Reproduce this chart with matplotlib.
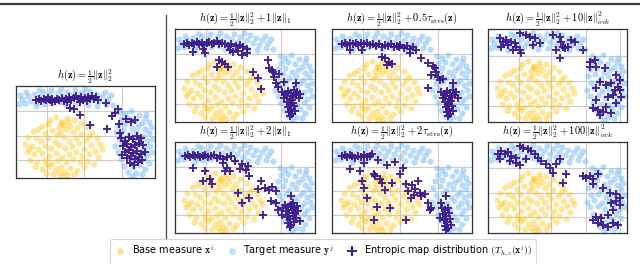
import matplotlib
matplotlib.use("Agg")
import matplotlib.pyplot as plt
from matplotlib.lines import Line2D
import numpy as np

plt.rcParams['mathtext.fontset'] = 'cm'
plt.rcParams['font.family'] = ['DejaVu Sans']

# ---------------- data (unitless coordinates) ----------------
base_pts = [
 (3.4,5.8),(4.0,6.1),(4.6,5.6),(5.1,6.0),(5.8,5.8),(6.5,5.5),
 (2.6,5.2),(3.2,5.4),(4.3,5.1),(4.7,5.3),(5.0,4.9),(5.4,5.2),(6.1,5.0),(7.1,5.1),
 (1.7,4.7),(2.2,4.9),(2.9,4.5),(3.6,4.8),(4.4,4.6),(5.7,4.6),(6.5,4.4),(7.6,4.5),(8.1,4.0),
 (1.2,4.1),(2.0,4.0),(2.5,3.7),(3.2,4.0),(3.9,3.6),(4.8,4.1),(5.3,3.7),(6.0,4.0),(7.0,3.8),(7.5,3.3),(8.4,3.4),
 (0.9,3.4),(1.6,3.2),(2.2,2.9),(2.9,3.2),(3.5,3.0),(4.3,3.3),(4.9,3.0),(5.6,3.2),(6.3,3.5),(6.8,2.9),(7.9,2.7),(8.6,2.9),
 (1.1,2.6),(1.8,2.4),(2.6,2.5),(3.3,2.2),(4.0,2.5),(4.6,2.1),(5.3,2.4),(6.0,2.6),(6.6,2.2),(7.3,2.4),(8.2,2.1),
 (1.4,1.8),(2.1,1.6),(2.9,1.8),(3.6,1.5),(4.2,1.8),(5.0,1.6),(5.7,1.9),(6.4,1.6),(7.1,1.7),(7.8,1.4),
 (1.9,1.1),(2.6,0.9),(3.3,1.2),(4.0,0.9),(4.5,1.1),(4.8,0.6),(5.4,1.0),(6.1,0.8),(6.8,1.1),
 (3.0,0.5),(3.7,0.4),(4.3,0.5),(5.1,0.3),(5.8,0.4),(4.6,0.2),
 (4.5,5.5),(5.2,5.6),(4.1,4.3),(3.0,1.4),(1.3,2.9),(7.3,4.2)]

target_pts = [
 (0.3,7.4),(0.6,7.9),(0.9,7.5),(1.2,8.2),(1.5,7.7),(1.8,8.4),(2.1,7.6),(2.4,8.1),(2.7,8.6),(3.0,7.8),
 (3.3,8.3),(3.5,8.8),(3.9,7.9),(4.2,8.5),(4.5,8.9),(4.7,8.1),(5.1,8.6),(5.3,7.8),(5.6,8.3),(5.9,8.8),
 (6.2,8.0),(6.5,8.5),(6.8,7.7),(7.1,8.2),(7.4,8.7),(7.7,7.9),(8.0,8.4),(8.3,7.7),(8.6,8.2),(8.9,8.6),
 (9.2,7.9),(9.5,8.3),(1.0,8.6),(2.0,7.2),(2.8,7.4),(3.6,7.5),(4.4,7.6),(6.0,7.4),(7.2,7.3),(8.1,7.2),
 (9.0,7.4),(9.7,7.3),(5.0,7.3),(6.9,8.9),(2.3,8.8),(0.4,8.3),
 (10.9,6.4),(11.5,6.7),(12.3,6.3),(12.9,6.0),(10.5,5.9),(11.2,6.0),(11.9,5.8),(12.6,5.5),(13.3,5.6),
 (10.2,5.3),(10.9,5.4),(11.6,5.0),(12.2,5.2),(12.9,4.9),(13.5,5.1),(10.0,4.6),(10.7,4.8),(11.3,4.4),
 (12.0,4.6),(12.7,4.2),(13.3,4.5),(10.3,3.9),(11.0,4.0),(11.8,3.7),(12.4,3.9),(13.1,3.7),(13.6,3.9),
 (9.9,3.2),(10.6,3.4),(11.4,3.1),(12.1,3.3),(12.8,3.0),(13.4,3.2),(10.2,2.6),(11.0,2.7),(11.7,2.4),
 (12.5,2.6),(13.1,2.3),(13.6,2.6),(10.5,1.9),(11.3,1.8),(12.1,1.7),(12.8,1.9),(13.3,1.5),(10.8,1.2),
 (11.7,1.1),(12.4,1.3),(12.9,0.9),(11.2,0.6),(12.0,0.5),(12.6,0.4),(11.6,0.2),(10.4,6.6),(13.0,6.4)]

map_l2 = [
 (2.0,7.8),(2.3,7.9),(2.5,7.7),(2.8,7.9),(3.0,7.8),(3.2,8.0),(3.4,7.8),(3.6,7.9),(3.9,7.7),(4.1,7.9),
 (4.3,7.8),(4.6,8.0),(4.8,7.7),(5.0,7.9),(5.3,8.1),(5.5,7.8),(5.8,8.0),(6.0,8.2),(6.2,7.9),(6.5,8.1),
 (6.7,7.8),(6.9,8.0),(7.2,8.1),(7.4,7.9),(7.6,8.2),(7.8,7.9),(8.0,8.1),(8.2,7.8),(5.1,7.6),(6.4,7.6),
 (3.6,7.6),(7.1,7.7),
 (5.4,7.0),(5.8,6.9),(6.4,6.3),(7.4,5.3),(9.0,7.5),(9.1,4.9),(9.9,6.5),(10.2,6.9),(9.6,6.2),(10.3,5.4),
 (11.0,5.9),(11.5,5.6),(11.9,5.8),(10.4,4.5),
 (10.5,4.0),(10.9,3.7),(11.3,4.1),(11.7,3.9),(12.1,4.2),(12.5,4.0),(10.7,3.2),(11.1,3.4),(11.5,3.1),
 (11.9,3.3),(12.3,3.5),(12.7,3.3),(10.9,2.6),(11.3,2.8),(11.7,2.5),(12.1,2.7),(12.5,2.4),(11.1,2.0),
 (11.5,2.2),(11.9,1.9),(12.3,2.1),(11.4,1.5),(11.8,1.3),(12.2,1.6),(12.6,1.8),(10.6,2.3),(12.9,2.6)]

map_l1_1 = [
 (0.9,7.8),(1.2,7.9),(1.4,7.7),(1.7,7.9),(1.9,7.8),(2.2,8.0),(2.4,7.8),(2.7,7.9),(2.9,7.7),(3.2,7.9),
 (3.4,8.0),(3.7,7.8),(3.9,7.9),(4.2,8.1),(4.4,7.8),(4.7,7.9),(5.0,7.8),(5.3,7.6),(5.6,7.8),(6.1,7.6),
 (6.5,7.7),(6.8,7.5),(7.1,7.3),
 (1.8,7.0),(3.0,6.9),(2.8,7.3),(5.5,7.2),(5.8,7.0),(6.3,7.1),(6.7,6.7),(7.1,6.9),(4.7,6.0),(4.4,6.2),
 (4.2,5.5),(5.3,5.5),(5.0,5.8),(7.7,5.0),(8.2,4.4),(8.5,3.3),(9.3,5.4),(9.6,5.2),(9.7,5.0),(9.8,4.5),
 (10.3,4.8),(10.0,3.9),(10.2,3.5),(10.8,4.0),(12.0,3.9),(9.2,6.2),
 (10.6,3.0),(10.9,2.8),(11.2,3.1),(11.5,2.9),(11.8,3.2),(12.1,3.0),(12.4,2.8),(10.8,2.4),(11.1,2.6),
 (11.4,2.3),(11.7,2.5),(12.0,2.7),(12.3,2.4),(11.6,2.2),
 (11.1,2.0),(11.4,1.8),(11.7,1.9),(11.2,1.5),(11.5,1.3),(11.8,1.6),(11.3,1.0),(11.6,0.8),(11.9,1.1),(11.4,0.6)]

map_stvs_05 = [
 (1.0,7.8),(1.3,7.9),(1.5,7.7),(1.8,7.9),(2.1,7.8),(2.4,7.9),(2.6,7.7),(2.9,7.9),(3.2,7.8),(3.5,7.9),
 (3.8,7.7),(4.1,7.8),(4.4,7.6),(4.7,7.8),(5.0,7.5),(5.3,7.7),(5.6,7.6),(5.9,7.8),(6.2,7.5),(6.5,7.6),
 (6.8,7.7),(7.1,7.4),(7.4,7.6),(7.7,7.3),(8.0,7.5),(8.3,7.2),
 (1.8,7.2),(3.0,7.2),(5.0,6.5),(5.3,6.4),(5.7,6.0),(5.5,5.7),(6.0,5.8),(6.7,7.5),(7.7,6.9),(8.8,6.4),
 (9.5,5.9),(10.2,5.4),(10.3,5.0),(9.8,4.7),(10.5,4.5),(10.7,4.2),(9.5,3.4),(12.0,3.9),(10.0,5.6),(11.0,4.3),
 (10.8,3.0),(11.1,2.8),(11.4,3.1),(11.7,2.9),(12.0,3.2),(12.3,3.0),(11.0,2.4),(11.3,2.6),(11.6,2.3),
 (11.9,2.5),(12.2,2.7),(12.5,2.4),
 (11.2,2.0),(11.5,1.8),(11.8,2.1),(11.3,1.5),(11.6,1.3),(11.9,1.6),(11.4,1.0),(11.7,0.8),(12.0,1.1),(11.5,0.6)]

map_ovk_10 = [
 (1.2,8.4),(1.5,8.0),(1.8,8.2),(2.0,7.7),(2.3,8.0),(2.7,7.9),(2.8,7.5),(3.2,7.2),(3.3,6.9),(3.2,8.9),
 (3.8,8.7),(4.2,8.5),(4.7,8.4),(5.2,7.9),(6.5,8.7),(7.2,8.5),(7.3,8.0),(7.7,7.4),(8.0,7.5),(8.3,8.2),
 (8.7,8.0),(7.2,6.4),(9.5,7.2),(1.3,7.5),(2.5,7.2),(4.5,7.7),(6.8,7.2),(7.5,7.5),
 (10.2,6.0),(10.7,6.2),(10.8,5.5),(10.2,5.5),(11.7,5.4),(12.8,4.7),(13.2,4.2),(13.0,3.5),(12.7,3.2),
 (13.2,3.2),(11.8,3.7),(11.2,4.0),(10.8,3.4),(12.5,2.7),(12.0,2.5),(10.8,2.2),(10.5,1.4),(11.0,1.2),
 (11.5,1.0),(11.8,1.5),(12.3,0.9),(11.2,0.7),(12.8,1.9),(13.3,2.5),(12.3,3.9)]

map_l1_2 = [
 (1.0,7.8),(1.3,7.9),(1.5,7.7),(1.8,7.9),(2.0,7.8),(2.3,7.9),(2.5,7.7),(2.8,7.8),(3.0,7.9),(3.3,7.7),
 (3.6,7.8),(3.9,7.9),(4.2,7.6),(4.5,7.8),(4.8,7.5),(5.2,7.7),(5.6,7.8),
 (1.8,6.6),(3.0,6.3),(2.8,5.3),(3.5,5.5),(3.7,5.0),(4.8,7.1),(5.0,6.3),(5.2,6.6),(5.5,6.3),(6.0,7.3),
 (6.7,7.0),(7.2,6.8),(7.3,5.8),(8.5,5.3),(8.2,4.5),(6.3,4.1),(6.7,3.1),(7.3,3.6),(8.7,1.8),(8.9,4.6),
 (9.3,4.4),(9.6,4.7),(10.0,4.3),(9.5,3.3),(10.0,3.1),(10.2,2.3),(10.7,2.5),(11.5,3.8),(11.7,3.0),(6.5,6.5),
 (7.0,6.4),
 (10.9,2.8),(11.2,2.6),(11.5,2.8),(11.8,2.5),(12.1,2.7),(11.0,2.2),(11.3,2.0),(11.6,2.3),(11.9,2.0),
 (12.2,2.2),(11.1,1.6),(11.4,1.4),(11.7,1.7),(12.0,1.5),(11.2,1.0),(11.5,0.8),(11.8,1.1),(11.4,0.6),
 (10.6,1.8),(12.4,1.2)]

map_stvs_2 = [
 (1.0,7.8),(1.3,7.9),(1.5,7.7),(1.8,7.9),(2.0,7.8),(2.3,7.6),(2.6,7.8),(2.9,7.7),(3.2,7.9),(3.5,7.7),
 (3.8,7.8),
 (1.8,6.5),(2.8,6.3),(4.0,8.0),(3.2,7.1),(4.2,6.0),(4.3,5.8),(4.8,5.5),(5.0,5.1),(3.0,5.3),(3.2,4.6),
 (3.5,3.6),(4.5,2.6),(5.8,2.5),(4.2,1.3),(6.0,5.1),(7.0,6.6),(6.8,6.0),(7.3,5.0),(7.5,4.3),(7.8,3.6),
 (8.2,4.5),(8.5,5.3),(8.7,4.1),(8.8,3.8),(9.2,4.0),(9.5,3.1),(9.8,2.5),(7.3,1.3),(9.7,2.3),(10.8,3.0),
 (11.3,3.8),(5.5,6.9),(6.3,7.2),(4.6,7.4),(7.9,4.9),(8.1,3.9),(5.3,4.4),
 (10.9,2.5),(11.2,2.3),(11.5,2.5),(11.0,1.9),(11.3,1.7),(11.6,2.0),(11.1,1.3),(11.4,1.1),(11.7,1.4),
 (11.2,0.7),(11.5,0.5),(11.8,0.8),(11.3,0.3),(10.7,1.5)]

map_ovk_100 = [
 (1.0,8.0),(1.3,8.3),(1.7,8.0),(2.0,8.2),(2.3,7.8),(2.8,7.6),(3.2,8.8),(3.5,8.6),(4.0,8.5),(4.3,8.3),
 (4.7,8.0),(5.0,7.6),(3.2,6.9),(2.8,7.1),(5.3,7.3),(5.8,7.0),(6.2,6.6),(6.8,7.0),(7.2,7.5),(6.5,6.1),
 (7.5,5.1),(7.8,6.0),(2.2,7.3),(1.2,7.5),(3.8,7.5),
 (9.5,5.8),(9.8,5.6),(10.2,5.8),(10.5,5.5),(11.0,6.0),(10.5,5.0),(11.5,4.6),(12.2,4.1),(12.8,4.0),
 (13.2,3.6),(12.8,3.3),(12.3,3.0),(13.2,2.8),(12.5,2.3),(12.0,1.8),(10.8,1.6),(10.5,1.3),(11.0,1.0),
 (11.5,0.8),(12.0,0.6),(12.5,1.0),(13.0,0.8),(11.3,1.5)]

titles = [
 r'$h(\mathbf{z}) = \frac{1}{2}\|\mathbf{z}\|_2^2$',
 r'$h(\mathbf{z}) = \frac{1}{2}\|\mathbf{z}\|_2^2 + 1\|\mathbf{z}\|_1$',
 r'$h(\mathbf{z}) = \frac{1}{2}\|\mathbf{z}\|_2^2 + 0.5\tau_{\mathrm{stvs}}(\mathbf{z})$',
 r'$h(\mathbf{z}) = \frac{1}{2}\|\mathbf{z}\|_2^2 + 10\|\mathbf{z}\|_{ovk}^2$',
 r'$h(\mathbf{z}) = \frac{1}{2}\|\mathbf{z}\|_2^2 + 2\|\mathbf{z}\|_1$',
 r'$h(\mathbf{z}) = \frac{1}{2}\|\mathbf{z}\|_2^2 + 2\tau_{\mathrm{stvs}}(\mathbf{z})$',
 r'$h(\mathbf{z}) = \frac{1}{2}\|\mathbf{z}\|_2^2 + 100\|\mathbf{z}\|_{ovk}^2$',
]
maps = [map_l2, map_l1_1, map_stvs_05, map_ovk_10, map_l1_2, map_stvs_2, map_ovk_100]
legend_labels = [r'Base measure $\mathbf{x}^i$', r'Target measure $\mathbf{y}^j$',
                 r'Entropic map distribution $(T_{h,\varepsilon}(\mathbf{x}^i))$']

grid_x = [3.1, 6.8, 10.55]
grid_y = [1.8, 4.25, 6.75]
grid_x_ovk = [3.1, 6.3, 9.8, 13.2]
grid_y_ovk = [1.6, 4.1, 6.6]

# ---------------- figure ----------------
W, H = 640, 264
fig = plt.figure(figsize=(6.4, 2.64), dpi=100)

def px_axes(x0, y0, x1, y1):
    return fig.add_axes([x0 / W, 1 - y1 / H, (x1 - x0) / W, (y1 - y0) / H])

boxes = [(16, 86, 155, 178),
         (175, 29, 315, 122), (332, 29, 472, 122), (488, 29, 627, 122),
         (175, 142, 315, 233), (332, 142, 472, 233), (488, 142, 627, 233)]

YEL = '#FFC20A'
BLU = '#74B9F5'
PUR = '#3D1A8A'

bx = np.array(base_pts)
tx = np.array(target_pts)
for i, (b, title, mp) in enumerate(zip(boxes, titles, maps)):
    ax = px_axes(*b)
    m = np.array(mp)
    ax.scatter(bx[:, 0], bx[:, 1], s=20, color=YEL, alpha=0.42, linewidths=0, zorder=2)
    ax.scatter(tx[:, 0], tx[:, 1], s=20, color=BLU, alpha=0.5, linewidths=0, zorder=2)
    ax.scatter(m[:, 0], m[:, 1], s=28, marker='+', color=PUR, linewidths=1.4, alpha=0.95, zorder=3)
    ax.set_xlim(0, 13.9)
    ax.set_ylim(0, 9.25)
    ovk = i in (3, 6)
    ax.set_xticks(grid_x_ovk if ovk else grid_x)
    ax.set_yticks(grid_y_ovk if ovk else grid_y)
    ax.tick_params(length=0, labelbottom=False, labelleft=False)
    ax.grid(True, color='#cccccc', lw=0.8)
    ax.set_axisbelow(True)
    for sp in ax.spines.values():
        sp.set_color('#333333')
        sp.set_linewidth(0.9)
    ax.set_title(title, fontsize=7.5, pad=2.5)

# decorative rules
fig.add_artist(Line2D([0, 1], [1 - 3.5 / H, 1 - 3.5 / H], color='#3a3a3a', lw=1.6))
fig.add_artist(Line2D([166 / W, 166 / W], [1 - 239 / H, 1 - 15 / H], color='#444444', lw=0.9))

handles = [
    Line2D([], [], ls='', marker='o', ms=4.8, color=YEL, alpha=0.45, mew=0),
    Line2D([], [], ls='', marker='o', ms=4.8, color=BLU, alpha=0.45, mew=0),
    Line2D([], [], ls='', marker='+', ms=6.5, color=PUR, mew=1.4),
]
leg = fig.legend(handles, legend_labels, loc='center', bbox_to_anchor=(323 / W, 1 - 252 / H),
                 ncol=3, fontsize=7, frameon=True, fancybox=True, handletextpad=0.6,
                 columnspacing=1.2, handlelength=1.2, borderpad=0.45)
leg.get_frame().set_edgecolor('#cccccc')
leg.get_frame().set_linewidth(0.8)

fig.savefig('out.png', dpi=100)
